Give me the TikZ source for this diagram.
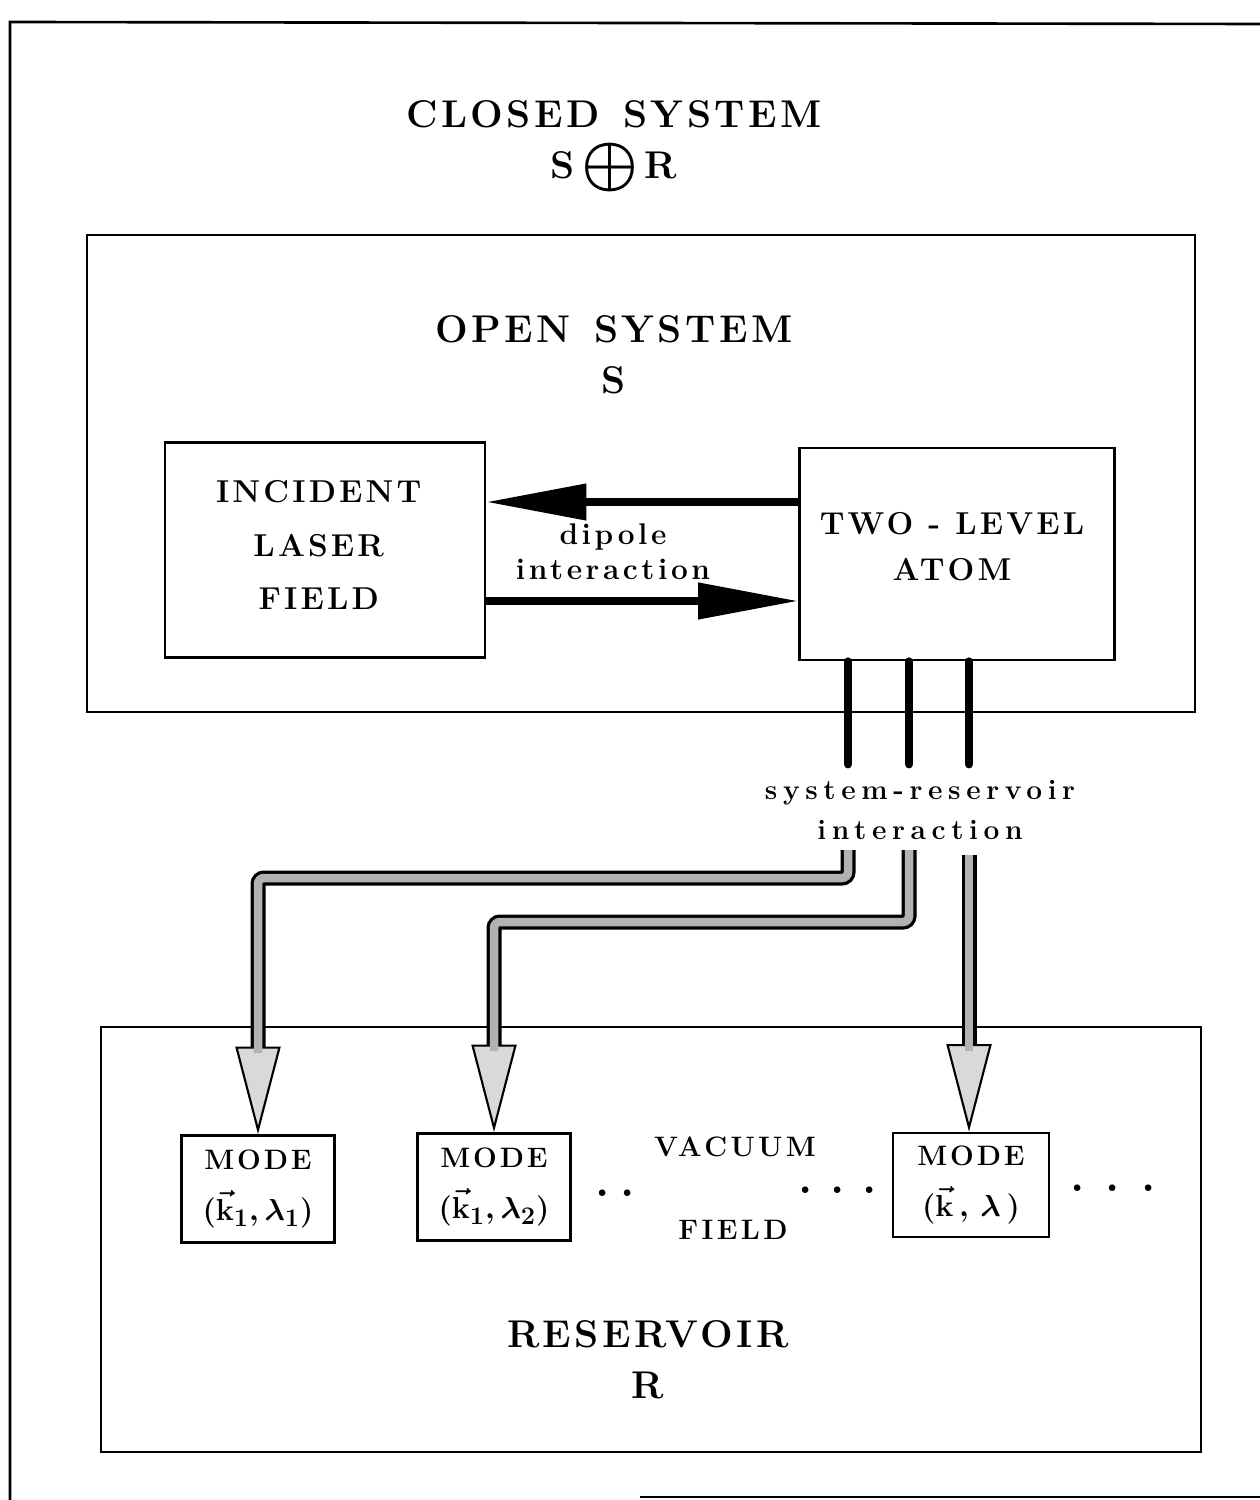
\documentclass[tikz,border=0pt]{standalone}
\usepackage{amsmath,amssymb}
\usepackage{fontspec}
\setmainfont{Latin Modern Roman}
\usepackage{tikz}
\usetikzlibrary{arrows.meta, positioning, calc}
\newcommand{\spc}[1]{\addfontfeatures{LetterSpace=#1}}
\newcommand{\klfont}{\fontsize{19}{24}\selectfont\boldmath}

\begin{document}
\begin{tikzpicture}[x=0.02cm,y=-0.02cm,
        frame/.style={draw,line width=1.5pt},
        box/.style={draw,line width=1.6pt,align=center,inner sep=0pt},
        ttl/.style={align=center,font=\fontsize{22}{29}\selectfont\bfseries\spc{9}},
        lbl/.style={align=center,font=\fontsize{18}{30}\selectfont\bfseries\spc{10}},
        sml/.style={align=center,font=\fontsize{17}{20}\selectfont\bfseries\spc{12}},
        md/.style={box,minimum width=3.05cm,minimum height=2.14cm,
                   font=\fontsize{16}{24}\selectfont\bfseries\boldmath\spc{10}},
        dots/.style={anchor=base,font=\fontsize{26}{26}\selectfont\bfseries},
        dip/.style={line width=0.15cm,-{Triangle[length=2cm,width=0.7cm]}},
        lead/.style={line width=0.16cm,line cap=round},
        res/.style={line width=0.3cm,rounded corners=0.12cm,
                    -{Triangle[length=1.75cm,width=0.9cm,fill=gray!30,line width=1.2pt]},
                    postaction={draw=gray!60,line width=0.17cm,-,shorten >=1.62cm}}
      ]
        \useasboundingbox (0,0) rectangle (1260,1500);
        % frames
        \draw[frame] (10,1505) -- (10,22) -- (1265,24);
        \draw[frame] (640,1497) -- (1265,1497);
        \draw[frame] (87,235) rectangle (1195,712);
        \draw[frame] (101,1027) rectangle (1201,1452);
        \node[ttl] (closed) at (614,146) {CLOSED\hspace{0.6em}SYSTEM\\S\,\raisebox{-0.14em}{\scalebox{1.75}{\boldmath$\oplus$}}\,R};
        \node[ttl] (open) at (614,355) {OPEN\hspace{0.6em}SYSTEM\\S};
        % open system
        \node[box,lbl,minimum width=6.4cm,minimum height=4.3cm] (laser) at (325,550) {\raisebox{0.2cm}{\shortstack{INCIDENT\\[0.52cm]LASER\\[0.52cm]FIELD}}\hspace{0.25cm}};
        \node[box,lbl,minimum width=6.3cm,minimum height=4.24cm] (atom) at (957,554) {\raisebox{0.3cm}{\shortstack{TWO\ -\ LEVEL\\[0.38cm]ATOM}}\hspace{0.2cm}};
        \draw[dip] ([yshift=1.04cm]atom.west) -- ([yshift=1.04cm]atom.west -| laser.east);
        \draw[dip] ([yshift=-1.02cm]laser.east) -- ([yshift=-1.02cm]laser.east -| atom.west);
        \node[sml] (dipole) at (613,552) {dipole\\interaction};
        % system-reservoir coupling
        \coordinate (s1) at (848,850);
        \coordinate (s2) at (909,850);
        \coordinate (s3) at (969,855);
        \draw[lead] (atom.south -| s1) -- ++(0,103);
        \draw[lead] (atom.south -| s2) -- ++(0,103);
        \draw[lead] (atom.south -| s3) -- ++(0,103);
        \node[sml,font=\fontsize{16}{23}\selectfont\bfseries\spc{20}] (sri) at (920,810) {system-reservoir\\interaction};
        % reservoir
        \node[md] (m1) at (258,1189) {MODE\\[5pt]{\klfont$(\vec{\mathbf{k}}_1,\lambda_1)$}};
        \node[md] (m2) at (494,1187) {MODE\\[5pt]{\klfont$(\vec{\mathbf{k}}_1,\lambda_2)$}};
        \node[md,minimum width=3.12cm,minimum height=2.08cm] (m3) at (971,1185) {MODE\\[5pt]{\klfont$(\vec{\mathbf{k}}\,,\,\lambda\,)$}};
        \draw[res] (s1) -- ++(0,28) -| (m1.north);
        \draw[res] (s2) -- ++(0,72) -| (m2.north);
        \draw[res] (s3) -- (s3 |- m3.north);
        \node[lbl,font=\fontsize{16}{24}\selectfont\bfseries\spc{12}] (vac) at (735,1147) {VACUUM};
        \node[lbl,font=\fontsize{16}{24}\selectfont\bfseries\spc{12}] (fld) at (733,1230) {FIELD};
        \node[dots] (d1) at (615,1196) {.\kern 6pt.};
        \node[dots] (d2) at (838,1193) {.\kern 10pt.\kern 10pt.};
        \node[dots] (d3) at (1113,1191) {.\kern 12pt.\kern 12pt.};
        \node[ttl] (resv) at (648,1360) {RESERVOIR\\R};
      \end{tikzpicture}
\end{document}
